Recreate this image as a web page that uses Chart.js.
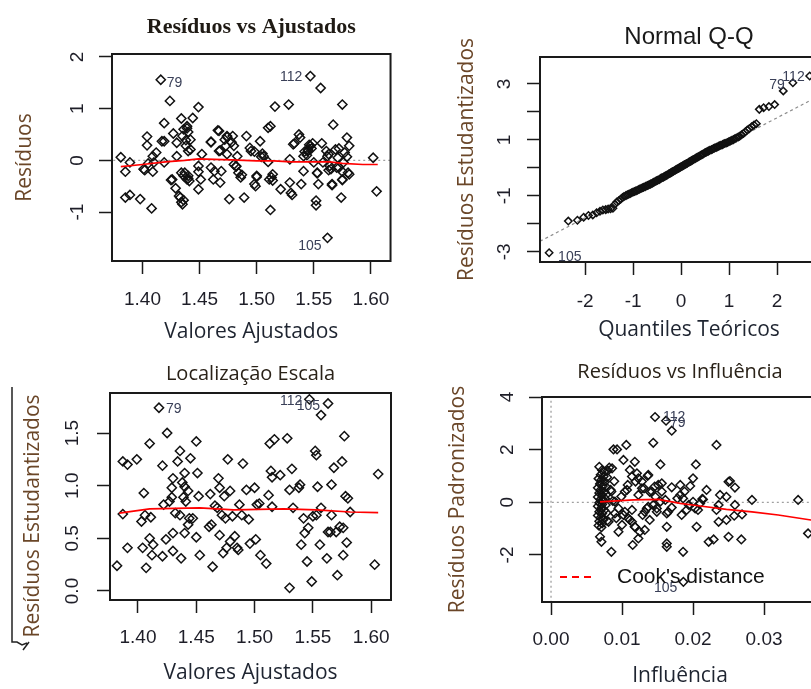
<!DOCTYPE html>
<html lang="pt">
<head>
<meta charset="utf-8">
<title>Diagnóstico do modelo</title>
<script src="https://cdn.jsdelivr.net/npm/chart.js@4.4.1/dist/chart.umd.min.js"></script>
<style>
  html, body { margin: 0; padding: 0; background: #fff; }
  body { position: relative; width: 811px; height: 689px; overflow: hidden; }
  canvas { position: absolute; }
</style>
</head>
<body>
<canvas id="c1" width="405" height="345" style="left:0;top:0"></canvas>
<canvas id="c2" width="455" height="345" style="left:405px;top:0"></canvas>
<canvas id="c3" width="405" height="344" style="left:0;top:345px"></canvas>
<canvas id="c4" width="455" height="344" style="left:405px;top:345px"></canvas>
<script>
Chart.defaults.font.family = "'Liberation Sans', Arial, sans-serif";

// observações identificadas (são as 3 primeiras posições de cada série)
const ID_LABELS = ['79', '112', '105'];

// --- Resíduos vs Ajustados ---
const fittedA = [1.416, 1.547, 1.562,
  1.381, 1.385, 1.385, 1.389, 1.389, 1.398, 1.401, 1.404, 1.404, 1.405,
  1.408, 1.409, 1.409, 1.410, 1.412, 1.419, 1.417, 1.419, 1.419, 1.424,
  1.427, 1.426, 1.429, 1.430, 1.430, 1.433, 1.434, 1.434, 1.435, 1.436,
  1.438, 1.437, 1.439, 1.440, 1.440, 1.439, 1.442, 1.441, 1.444, 1.449,
  1.449, 1.449, 1.451, 1.452, 1.436, 1.434, 1.460, 1.460, 1.462, 1.463,
  1.466, 1.467, 1.468, 1.469, 1.472, 1.473, 1.474, 1.474, 1.476, 1.478,
  1.479, 1.480, 1.482, 1.483, 1.484, 1.486, 1.489, 1.491, 1.494, 1.495,
  1.498, 1.500, 1.503, 1.505, 1.506, 1.510, 1.510, 1.512, 1.511, 1.512,
  1.514, 1.516, 1.521, 1.528, 1.529, 1.529, 1.530, 1.532, 1.537, 1.538,
  1.539, 1.541, 1.541, 1.545, 1.547, 1.549, 1.550, 1.552, 1.552, 1.553,
  1.554, 1.556, 1.557, 1.558, 1.561, 1.562, 1.564, 1.565, 1.566, 1.567,
  1.569, 1.571, 1.572, 1.574, 1.575, 1.575, 1.576, 1.577, 1.579, 1.580,
  1.581, 1.602, 1.605,
  1.439, 1.440, 1.438, 1.442, 1.467, 1.474, 1.460, 1.468, 1.480, 1.482,
  1.487, 1.435, 1.436, 1.432, 1.425, 1.440, 1.449, 1.402,
  1.533, 1.546, 1.548, 1.545, 1.542, 1.544, 1.563, 1.572, 1.579, 1.504,
  1.498, 1.553, 1.563, 1.570, 1.575, 1.581, 1.500, 1.499, 1.513, 1.514,
  1.531, 1.566, 1.575];
const residA = [1.56, 1.63, -1.50,
  0.06, -0.22, -0.72, -0.04, -0.67, -0.75, -0.17, 0.46, 0.29, -0.06,
  -0.93, 0.08, -0.22, -0.04, 0.15, 0.72, 0.37, 0.37, -0.04, 1.15,
  0.52, -0.37, -0.54, 0.34, 0.08, -0.72, 0.81, -0.81, 0.47, 0.60,
  0.28, -0.24, 0.66, 0.18, -0.30, -0.37, 0.40, -0.40, 0.82, 1.03,
  -0.11, -0.56, -0.37, 0.12, -0.30, -0.24, 0.35, -0.14, -0.37, -0.21,
  0.58, 0.18, -0.43, -0.21, 0.40, 0.28, 0.12, 0.47, -0.75, 0.35,
  0.47, -0.08, -0.11, 0.08, -0.24, -0.33, -0.72, 0.47, 0.24, 0.18,
  -0.46, -0.30, 0.37, 0.13, 0.08, -0.03, 0.63, 0.66, -0.37, -0.96,
  -0.27, 1.04, -0.56, 1.08, 0.02, -0.43, -0.63, 0.31, 0.50, 0.44,
  -0.46, 0.08, -0.21, 0.18, 0.28, 0.33, -0.04, -0.78, -0.87, -0.24,
  -0.46, 1.40, 0.33, -0.04, 0.18, 0.08, -0.11, -0.17, -0.46, 0.69,
  0.21, 0.05, -0.14, -0.72, 1.08, -0.37, -0.04, 0.15, 0.44, -0.24,
  0.28, 0.05, -0.60,
  0.62, 0.55, 0.39, 0.21, 0.57, 0.45, 0.36, 0.19, 0.28, -0.12,
  -0.28, -0.85, -0.77, -0.69, -0.38, -0.35, -0.22, -0.19,
  0.33, 0.30, 0.23, 0.20, 0.17, 0.10, 0.12, 0.23, 0.07, 0.07,
  0.17, -0.25, -0.19, -0.14, -0.22, -0.27, -0.32, -0.50, -0.33, -0.39,
  -0.67, -0.48, -0.38];
const lowessAX = [1.381, 1.400, 1.420, 1.437, 1.449, 1.463, 1.478, 1.500, 1.515, 1.530, 1.547, 1.564, 1.575, 1.593, 1.606];
const lowessAY = [-0.12, -0.08, -0.03, 0.00, 0.03, 0.02, 0.01, -0.01, -0.01, -0.03, -0.03, -0.03, -0.06, -0.08, -0.08];
const zeroAX = [1.37, 1.62];
const zeroAY = [0, 0];

const xTicksFit = [1.40, 1.45, 1.50, 1.55, 1.60];
const xTickLabelsFit = ['1.40', '1.45', '1.50', '1.55', '1.60'];
const yTicksA = [-1, 0, 1, 2];
const yTickLabelsA = ['-1', '0', '1', '2'];

// --- Normal Q-Q ---
const qqX = [2.33, 2.68, -2.75,
  -2.35, -2.16, -2.03, -1.93, -1.84, -1.76, -1.69, -1.63, -1.57, -1.52,
  -1.47, -1.42, -1.38, -1.34, -1.30, -1.26, -1.22, -1.19, -1.15, -1.12,
  -1.09, -1.06, -1.03, -1.00, -0.97, -0.94, -0.91, -0.88, -0.86, -0.83,
  -0.80, -0.78, -0.75, -0.73, -0.70, -0.68, -0.65, -0.63, -0.60, -0.58,
  -0.56, -0.53, -0.51, -0.49, -0.46, -0.44, -0.42, -0.40, -0.37, -0.35,
  -0.33, -0.31, -0.29, -0.26, -0.24, -0.22, -0.20, -0.18, -0.16, -0.13,
  -0.11, -0.09, -0.07, -0.05, -0.03, -0.01, 0.01, 0.03, 0.05, 0.07,
  0.09, 0.11, 0.13, 0.16, 0.18, 0.20, 0.22, 0.24, 0.26, 0.29,
  0.31, 0.33, 0.35, 0.37, 0.40, 0.42, 0.44, 0.46, 0.49, 0.51,
  0.53, 0.56, 0.58, 0.60, 0.63, 0.65, 0.68, 0.70, 0.73, 0.75,
  0.78, 0.80, 0.83, 0.86, 0.88, 0.91, 0.94, 0.97, 1.00, 1.03,
  1.06, 1.09, 1.12, 1.15, 1.19, 1.22, 1.26, 1.30, 1.34, 1.38,
  1.42, 1.47, 1.52, 1.57, 1.63, 1.72, 1.83, 1.95, 2.13];
const qqY = [3.04, 3.28, -3.03,
  -1.90, -1.87, -1.76, -1.70, -1.68, -1.60, -1.55, -1.50, -1.49, -1.47,
  -1.46, -1.44, -1.30, -1.22, -1.17, -1.12, -1.06, -1.02, -0.99, -0.96,
  -0.94, -0.91, -0.89, -0.86, -0.84, -0.82, -0.80, -0.77, -0.75, -0.73,
  -0.71, -0.69, -0.67, -0.65, -0.63, -0.61, -0.59, -0.57, -0.55, -0.52,
  -0.50, -0.48, -0.46, -0.44, -0.42, -0.40, -0.37, -0.35, -0.33, -0.31,
  -0.29, -0.27, -0.25, -0.22, -0.20, -0.18, -0.16, -0.14, -0.12, -0.09,
  -0.07, -0.05, -0.03, -0.01, 0.01, 0.03, 0.05, 0.07, 0.09, 0.11,
  0.13, 0.15, 0.17, 0.20, 0.22, 0.24, 0.26, 0.28, 0.30, 0.33,
  0.35, 0.37, 0.39, 0.41, 0.44, 0.46, 0.48, 0.50, 0.53, 0.55,
  0.57, 0.59, 0.61, 0.63, 0.65, 0.67, 0.69, 0.71, 0.73, 0.75,
  0.77, 0.79, 0.81, 0.83, 0.85, 0.87, 0.89, 0.91, 0.94, 0.96,
  0.99, 1.01, 1.04, 1.07, 1.10, 1.13, 1.18, 1.23, 1.29, 1.35,
  1.40, 1.47, 1.53, 1.58, 2.09, 2.15, 2.19, 2.26, 2.75];
const qqLineX = [-2.94, 2.74];
const qqLineY = [-2.62, 2.45];
const xTicksQQ = [-2, -1, 0, 1, 2];
const xTickLabelsQQ = ['-2', '-1', '0', '1', '2'];
const yTicksQQ = [-3, -2, -1, 0, 1, 2, 3];
const yTickLabelsQQ = ['-3', '', '-1', '', '1', '', '3'];

// --- Localização Escala ---
const fittedC = [1.418, 1.547, 1.563,
  1.382, 1.387, 1.387, 1.391, 1.391, 1.399, 1.403, 1.405, 1.404, 1.407,
  1.406, 1.410, 1.410, 1.411, 1.412, 1.413, 1.421, 1.421, 1.422, 1.424,
  1.425, 1.427, 1.429, 1.430, 1.430, 1.430, 1.429, 1.432, 1.434, 1.436,
  1.436, 1.437, 1.438, 1.439, 1.440, 1.440, 1.440, 1.441, 1.443, 1.444,
  1.445, 1.443, 1.447, 1.450, 1.450, 1.451, 1.452, 1.453, 1.462, 1.461,
  1.463, 1.464, 1.466, 1.468, 1.469, 1.470, 1.470, 1.472, 1.473, 1.474,
  1.475, 1.476, 1.477, 1.479, 1.479, 1.481, 1.483, 1.485, 1.486, 1.487,
  1.489, 1.490, 1.493, 1.495, 1.496, 1.500, 1.501, 1.502, 1.504, 1.505,
  1.510, 1.512, 1.513, 1.514, 1.515, 1.515, 1.517, 1.522, 1.528, 1.530,
  1.532, 1.533, 1.530, 1.538, 1.539, 1.540, 1.542, 1.543, 1.545, 1.546,
  1.549, 1.550, 1.552, 1.553, 1.553, 1.554, 1.556, 1.557, 1.557, 1.562,
  1.563, 1.565, 1.566, 1.568, 1.566, 1.570, 1.571, 1.573, 1.575, 1.576,
  1.576, 1.577, 1.579, 1.578, 1.580, 1.582, 1.603, 1.606];
const sqrtResC = [1.74, 1.82, 1.78,
  0.24, 0.73, 1.23, 1.20, 0.41, 1.25, 0.66, 0.93, 0.41, 0.22,
  0.72, 1.40, 0.50, 0.70, 0.34, 0.44, 1.19, 0.33, 0.82, 0.49,
  1.50, 0.85, 0.89, 1.07, 0.55, 0.38, 0.98, 0.74, 1.23, 0.72,
  1.33, 0.31, 1.03, 0.89, 1.12, 0.55, 0.99, 0.85, 0.95, 0.69,
  1.26, 0.63, 0.69, 1.42, 0.51, 1.12, 0.90, 0.34, 0.92, 0.61,
  0.63, 0.23, 0.81, 0.79, 1.07, 0.98, 0.53, 0.72, 0.36, 0.90,
  0.69, 0.41, 1.25, 0.95, 0.47, 0.71, 0.52, 0.41, 0.39, 0.82,
  0.72, 1.21, 0.96, 0.68, 0.45, 0.98, 0.49, 0.82, 0.83, 0.34,
  0.26, 0.91, 1.40, 1.14, 1.08, 0.80, 1.44, 1.10, 1.45, 0.96,
  1.16, 0.79, 0.03, 0.98, 1.01, 0.44, 0.69, 0.55, 0.28, 0.60,
  0.09, 0.71, 1.33, 1.29, 0.72, 0.99, 0.44, 0.79, 1.67, 0.31,
  0.56, 0.56, 1.01, 1.17, 0.72, 0.56, 0.15, 0.61, 1.23, 0.60,
  0.34, 1.47, 0.46, 0.90, 0.88, 0.75, 0.25, 1.11];
const lowessCX = [1.384, 1.410, 1.453, 1.482, 1.525, 1.553, 1.582, 1.606];
const lowessCY = [0.74, 0.78, 0.79, 0.77, 0.78, 0.77, 0.75, 0.745];
const yTicksC = [0, 0.5, 1, 1.5];
const yTickLabelsC = ['0.0', '0.5', '1.0', '1.5'];

// --- Resíduos vs Influência ---
const levD = [0.0162, 0.01465, 0.01864,
  0.0068, 0.0072, 0.0075, 0.0070, 0.0074, 0.0067, 0.0071, 0.0076, 0.0069, 0.0073,
  0.0066, 0.0070, 0.0075, 0.0068, 0.0072, 0.0066, 0.0070, 0.0074, 0.0068, 0.0072,
  0.0066, 0.0071, 0.0075, 0.0068, 0.0072, 0.0066, 0.0070, 0.0074, 0.0068, 0.0072,
  0.0067, 0.0071, 0.0077, 0.0078, 0.0077, 0.0078, 0.0076, 0.0079, 0.0080, 0.0079,
  0.0069, 0.0071,
  0.0084, 0.0086, 0.0082, 0.0088, 0.0093, 0.0085, 0.0087, 0.0090, 0.0081, 0.0085,
  0.0090, 0.0095, 0.0095, 0.0092, 0.0089,
  0.0106, 0.0102, 0.0118, 0.0111, 0.0121, 0.0137, 0.0107, 0.0128, 0.0139, 0.0147,
  0.0099, 0.0104, 0.0108, 0.0114, 0.0119, 0.0123, 0.0128, 0.0131, 0.0136, 0.0142,
  0.0146, 0.0151, 0.0156, 0.0109, 0.0114, 0.0118, 0.0129, 0.0135, 0.0144, 0.0104,
  0.0100, 0.0123, 0.0154, 0.0137, 0.0132, 0.0114, 0.0102, 0.0111, 0.0118, 0.0125,
  0.0115, 0.0123, 0.0132, 0.0139, 0.0149, 0.0149, 0.0144, 0.0170, 0.0154,
  0.0204, 0.0233, 0.0200, 0.0156, 0.0170, 0.0182, 0.0196, 0.0250, 0.0219, 0.0182,
  0.0186, 0.0214, 0.0238, 0.0247, 0.0200, 0.0210, 0.0161, 0.0163, 0.0184, 0.0191,
  0.0207, 0.0233, 0.0236, 0.0163, 0.0205, 0.0163, 0.0163, 0.0186, 0.0222, 0.0229,
  0.0250, 0.0252, 0.0259, 0.0283, 0.0348, 0.0362, 0.0268, 0.0258, 0.0269, 0.0188,
  0.0170, 0.0178, 0.0194, 0.0203, 0.0213, 0.0236, 0.0259, 0.0165, 0.0247];
const stdResD = [3.10, 3.24, -3.02,
  1.35, 1.22, 1.15, 1.05, 0.98, 0.90, 0.85, 0.78, 0.70, 0.62,
  0.55, 0.48, 0.40, 0.35, 0.28, 0.20, 0.12, 0.05, -0.02, -0.08,
  -0.15, -0.22, -0.30, -0.36, -0.42, -0.50, -0.58, -0.65, -0.72, -0.80,
  -0.88, -0.95, 0.60, 0.30, -0.10, -0.40, 0.15, 0.95, 1.20, -0.70,
  -1.31, -1.50,
  0.47, 1.29, 1.32, 2.01, 2.01, -1.88, 0.05, -0.42, -0.74, 0.41,
  0.03, -0.23, -1.12, -0.60, 0.80,
  2.18, 1.61, 1.54, 1.23, 1.10, 1.04, 0.47, 0.53, 0.40, 0.21,
  0.22, 0.41, 0.66, 0.98, 0.79, 0.91, 0.79, 0.53, 1.00, 0.41,
  0.60, 0.66, 0.41, -0.61, -0.74, -0.93, -0.48, -0.23, -0.10, -0.36,
  -0.86, 0.28, 0.03, -0.17, -0.36, -0.29, -0.48, -0.67, -0.93, -1.12,
  -1.62, -1.37, -1.05, -0.67, -0.36, -0.23, 2.26, 2.72, 1.44,
  1.44, 2.18, 0.91, 0.72, 0.57, 0.66, 0.62, 0.78, 0.47, 0.28,
  0.15, 0.11, 0.28, 0.21, 0.02, -0.04, 0.09, -0.42, -0.48, -0.29,
  -0.29, -0.29, -0.74, -0.93, -0.93, -1.56, -1.69, -1.88, -1.50, -1.41,
  -1.31, 0.81, 0.56, 0.09, 0.09, -1.18, -1.41, -0.51, -0.46, 0.41,
  -0.20, 0.15, -0.10, -0.23, 0.13, -0.10, -0.10, -0.36, -0.67];
const lowessDX = [0.0069, 0.0116, 0.0151, 0.0182, 0.0210, 0.0247, 0.0283, 0.0320, 0.0366, 0.0376];
const lowessDY = [0.02, 0.09, 0.11, -0.04, -0.14, -0.27, -0.36, -0.48, -0.67, -0.71];
const zeroDX = [-0.002, 0.040];
const zeroDY = [0, 0];
const vertDX = [0, 0];
const vertDY = [-4, 4.2];
const xTicksD = [0, 0.01, 0.02, 0.03];
const xTickLabelsD = ['0.00', '0.01', '0.02', '0.03'];
const yTicksD = [-2, 0, 2, 4];
const yTickLabelsD = ['-2', '0', '2', '4'];
const COOK_LABEL = "Cook's distance";

// --- estilos ---
const COR_TICK = '#1e1e28';
const COR_TITULO_X = '#1e2430';
const COR_TITULO_Y = '#6a4628';
const FONTE_EIXO = { family: "'Open Sans', sans-serif", size: 21 };
const GRADE = { drawOnChartArea: false, drawTicks: true, tickLength: 13, tickColor: '#1a1a1a', tickWidth: 1.5 };

const pts = (xs, ys) => xs.map((x, i) => ({ x: x, y: ys[i] }));

function pontos(xs, ys, r) {
  return { label: 'observações', data: pts(xs, ys), pointStyle: 'rectRot', pointRadius: r,
    pointBorderWidth: 1.5, borderColor: '#111', backgroundColor: 'rgba(0,0,0,0)', order: 2 };
}
function linha(label, xs, ys, cor, traco, largura, ordem) {
  return { label: label, data: pts(xs, ys), showLine: true, pointRadius: 0, borderColor: cor,
    borderWidth: largura, borderDash: traco, fill: false, order: ordem };
}

// caixa em volta da área do gráfico (estilo R)
const moldura = {
  id: 'moldura',
  afterDraw(chart) {
    const a = chart.chartArea, ctx = chart.ctx;
    ctx.save();
    ctx.strokeStyle = '#1a1a1a';
    ctx.lineWidth = 2;
    ctx.strokeRect(a.left, a.top, a.right - a.left, a.bottom - a.top);
    ctx.restore();
  }
};

// números das observações ao lado dos pontos
function rotulos(desloc) {
  return {
    id: 'rotulos',
    afterDatasetsDraw(chart) {
      const meta = chart.getDatasetMeta(0), ctx = chart.ctx;
      ctx.save();
      ctx.font = "14px 'Liberation Sans', Arial";
      ctx.fillStyle = '#3a4058';
      ctx.textBaseline = 'middle';
      desloc.forEach((d, i) => {
        const p = meta.data[i];
        ctx.textAlign = d[0] > 0 ? 'left' : 'right';
        ctx.fillText(ID_LABELS[i], p.x + d[0], p.y + d[1]);
      });
      ctx.restore();
    }
  };
}

// título do eixo y com raiz quadrada
const tituloRaiz = {
  id: 'tituloRaiz',
  afterDraw(chart) {
    const ctx = chart.ctx;
    ctx.save();
    ctx.strokeStyle = '#222';
    ctx.lineWidth = 1.5;
    ctx.beginPath();
    ctx.moveTo(12, 42); ctx.lineTo(12, 297); ctx.lineTo(17, 297); ctx.lineTo(22, 300); ctx.lineTo(27, 298);
    ctx.moveTo(23, 305); ctx.lineTo(29, 297);
    ctx.stroke();
    ctx.translate(33, 171);
    ctx.rotate(-Math.PI / 2);
    ctx.font = "21px 'Open Sans', sans-serif";
    ctx.fillStyle = COR_TITULO_Y;
    ctx.textAlign = 'center';
    ctx.textBaseline = 'middle';
    ctx.fillText('Resíduos Estudantizados', 0, 0);
    ctx.restore();
  }
};

// legenda da distância de Cook dentro do gráfico
const legendaCook = {
  id: 'legendaCook',
  afterDraw(chart) {
    const ds = chart.data.datasets.find(d => d.label === COOK_LABEL);
    const a = chart.chartArea, ctx = chart.ctx;
    const y = a.bottom - 25;
    ctx.save();
    ctx.strokeStyle = ds.borderColor;
    ctx.lineWidth = ds.borderWidth;
    ctx.setLineDash(ds.borderDash);
    ctx.beginPath();
    ctx.moveTo(a.left + 18, y);
    ctx.lineTo(a.left + 51, y);
    ctx.stroke();
    ctx.setLineDash([]);
    ctx.font = "21px 'Liberation Sans', Arial";
    ctx.fillStyle = '#111';
    ctx.textAlign = 'left';
    ctx.textBaseline = 'middle';
    ctx.fillText(ds.label, a.left + 75, y);
    ctx.restore();
  }
};

function painel(id, p) {
  const eixoX = {
    type: 'linear', position: 'bottom', min: p.xMin, max: p.xMax,
    afterBuildTicks: s => { s.ticks = p.xTicks.map(v => ({ value: v })); },
    afterFit: s => { s.height = p.xAxisH; },
    ticks: { autoSkip: false, minRotation: 0, maxRotation: 0, padding: p.xTickPad,
      font: { size: 19 }, color: COR_TICK, callback: (v, i) => p.xTickLabels[i] },
    grid: GRADE, border: { display: false },
    title: { display: true, text: p.xTitle, font: FONTE_EIXO, color: COR_TITULO_X,
      padding: { top: 0, bottom: p.xTitlePad } }
  };
  const eixoY = {
    type: 'linear', position: 'left', min: p.yMin, max: p.yMax,
    afterBuildTicks: s => { s.ticks = p.yTicks.map(v => ({ value: v })); },
    afterFit: s => { s.width = p.yAxisW; },
    ticks: { autoSkip: false, minRotation: 90, maxRotation: 90, crossAlign: 'center', padding: p.yTickPad,
      font: { size: 19 }, color: COR_TICK, callback: (v, i) => p.yTickLabels[i] },
    grid: GRADE, border: { display: false },
    title: { display: !!p.yTitle, text: p.yTitle || '', font: FONTE_EIXO, color: COR_TITULO_Y,
      padding: { top: p.yTitlePad || 0, bottom: 0 } }
  };
  return new Chart(document.getElementById(id), {
    type: 'scatter',
    data: { datasets: p.datasets },
    options: {
      responsive: false, animation: false, events: [],
      layout: { padding: { left: 0, right: p.padRight, top: p.padTop, bottom: 0 } },
      plugins: {
        legend: { display: false },
        tooltip: { enabled: false },
        title: { display: true, text: p.title, fullSize: false, font: p.titleFont, color: p.titleColor,
          padding: { top: 0, bottom: p.titleGap } }
      },
      scales: { x: eixoX, y: eixoY }
    },
    plugins: [moldura].concat(p.extra || [])
  });
}

painel('c1', {
  title: 'Resíduos vs Ajustados',
  titleFont: { family: "'Liberation Serif', 'Times New Roman', serif", size: 22, weight: 'bold' },
  titleColor: '#1f1a14', padTop: 13.8, titleGap: 13.8, padRight: 10,
  xMin: 1.3733, xMax: 1.6172, xTicks: xTicksFit, xTickLabels: xTickLabelsFit,
  xAxisH: 84, xTickPad: 14.6, xTitle: 'Valores Ajustados', xTitlePad: 0,
  yMin: -1.948, yMax: 2.058, yTicks: yTicksA, yTickLabels: yTickLabelsA,
  yAxisW: 112, yTickPad: 12.5, yTitle: 'Resíduos', yTitlePad: 12.4,
  datasets: [
    pontos(fittedA, residA, 4.6),
    linha('lowess', lowessAX, lowessAY, '#ff0000', [], 1.7, 0),
    linha('zero', zeroAX, zeroAY, '#a0a0a0', [2, 3], 1.3, 3)
  ],
  extra: [rotulos([[6, 3], [-8, 1], [-6, 8]])]
});

painel('c2', {
  title: 'Normal Q-Q',
  titleFont: { family: "'Liberation Sans', Arial, sans-serif", size: 24, weight: 'normal' },
  titleColor: '#1a1a1a', padTop: 22.6, titleGap: 5.6, padRight: 22,
  xMin: -2.94, xMax: 3.27, xTicks: xTicksQQ, xTickLabels: xTickLabelsQQ,
  xAxisH: 83, xTickPad: 15.6, xTitle: 'Quantiles Teóricos', xTitlePad: 2.4,
  yMin: -3.36, yMax: 3.96, yTicks: yTicksQQ, yTickLabels: yTickLabelsQQ,
  yAxisW: 135, yTickPad: 13.5, yTitle: 'Resíduos Estudantizados', yTitlePad: 49.4,
  datasets: [
    pontos(qqX, qqY, 3.7),
    linha('qqline', qqLineX, qqLineY, '#8c8c8c', [3, 3], 1.2, 3)
  ],
  extra: [rotulos([[-8, 2], [-5, 1], [9, 4]])]
});

painel('c3', {
  title: 'Localização Escala',
  titleFont: { family: "'Open Sans', sans-serif", size: 20, weight: 'normal' },
  titleColor: '#2a2218', padTop: 17, titleGap: 7, padRight: 14,
  xMin: 1.376, xMax: 1.617, xTicks: xTicksFit, xTickLabels: xTickLabelsFit,
  xAxisH: 89, xTickPad: 13.6, xTitle: 'Valores Ajustados', xTitlePad: 3.4,
  yMin: -0.0855, yMax: 1.88, yTicks: yTicksC, yTickLabels: yTickLabelsC,
  yAxisW: 110, yTickPad: 10.8,
  datasets: [
    pontos(fittedC, sqrtResC, 4.6),
    linha('lowess', lowessCX, lowessCY, '#ff0000', [], 1.7, 0)
  ],
  extra: [rotulos([[7, 1], [-7, 2], [-8, 3]]), tituloRaiz]
});

painel('c4', {
  title: 'Resíduos vs Influência',
  titleFont: { family: "'Open Sans', sans-serif", size: 20, weight: 'normal' },
  titleColor: '#2a2218', padTop: 15, titleGap: 13, padRight: 42,
  xMin: -0.00127, xMax: 0.0376, xTicks: xTicksD, xTickLabels: xTickLabelsD,
  xAxisH: 87, xTickPad: 13.6, xTitle: 'Influência', xTitlePad: 0,
  yMin: -3.785, yMax: 4, yTicks: yTicksD, yTickLabels: yTickLabelsD,
  yAxisW: 137, yTickPad: 12.5, yTitle: 'Resíduos Padronizados', yTitlePad: 40.4,
  datasets: [
    pontos(levD, stdResD, 4.3),
    linha('lowess', lowessDX, lowessDY, '#ff0000', [], 1.7, 0),
    linha('zero', zeroDX, zeroDY, '#a0a0a0', [2, 3], 1.3, 3),
    linha('vertical', vertDX, vertDY, '#a0a0a0', [2, 3], 1.3, 3),
    linha(COOK_LABEL, [], [], '#ff0000', [7, 5], 2, 4)
  ],
  extra: [rotulos([[4, 2], [8, 0], [-6, 6]]), legendaCook]
});
</script>
</body>
</html>
